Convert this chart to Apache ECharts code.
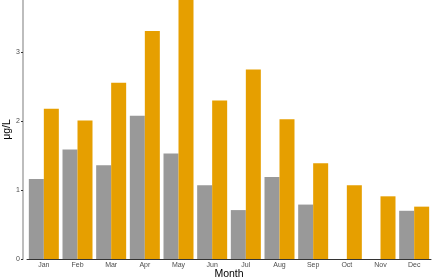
<!DOCTYPE html>
<html><head><meta charset="utf-8">
<script src="https://cdn.jsdelivr.net/npm/echarts@6/dist/echarts.min.js"></script>
<style>html,body{margin:0;padding:0;background:#fff}#c{width:438px;height:280px}</style>
</head><body><div id="c"></div>
<script>
const months = ['Jan','Feb','Mar','Apr','May','Jun','Jul','Aug','Sep','Oct','Nov','Dec'];
const seriesGray = [1.16,1.59,1.36,2.08,1.53,1.07,0.71,1.19,0.79,null,null,0.70];
const seriesOrange = [2.18,2.01,2.56,3.31,3.76,2.30,2.75,2.03,1.39,1.07,0.91,0.76];
const yTicks = [0,1,2,3];
const chart = echarts.init(document.getElementById('c'), null, {renderer:'canvas'});
const font = 'Liberation Sans, Arial, sans-serif';
chart.setOption({
  animation:false,
  grid:{left:27,right:7,top:0,bottom:21,containLabel:false,outerBoundsMode:'none'},
  xAxis:{type:'category',data:months,boundaryGap:true,
    axisLine:{lineStyle:{color:'#333',width:1}},
    axisTick:{alignWithLabel:true,length:2,lineStyle:{color:'#333'}},
    axisLabel:{fontSize:7,color:'#4d4d4d',margin:3,fontFamily:font,interval:0},
    name:'Month',nameLocation:'middle',nameGap:10,nameMoveOverlap:false,
    nameTextStyle:{fontSize:10.5,color:'#000',fontFamily:font}},
  yAxis:{type:'value',min:0,max:3.76,interval:1,offset:4,
    splitLine:{show:false},
    axisLine:{show:true,lineStyle:{color:'#bdbdbd',width:2}},
    axisTick:{show:true,length:2,lineStyle:{color:'#333'}},
    axisLabel:{fontSize:7,color:'#4d4d4d',margin:3,fontFamily:font,showMaxLabel:false,
      formatter:v=>yTicks.includes(v)?String(v):''},
    name:'μg/L',nameLocation:'middle',nameGap:10,nameRotate:90,nameMoveOverlap:false,
    nameTextStyle:{fontSize:10.5,color:'#000',fontFamily:font}},
  series:[
    {type:'bar',data:seriesGray,barWidth:15,barGap:'0%',itemStyle:{color:'#999999'}},
    {type:'bar',data:seriesOrange,barWidth:15,barGap:'0%',itemStyle:{color:'#E69F00'}}
  ]
});
</script></body></html>
